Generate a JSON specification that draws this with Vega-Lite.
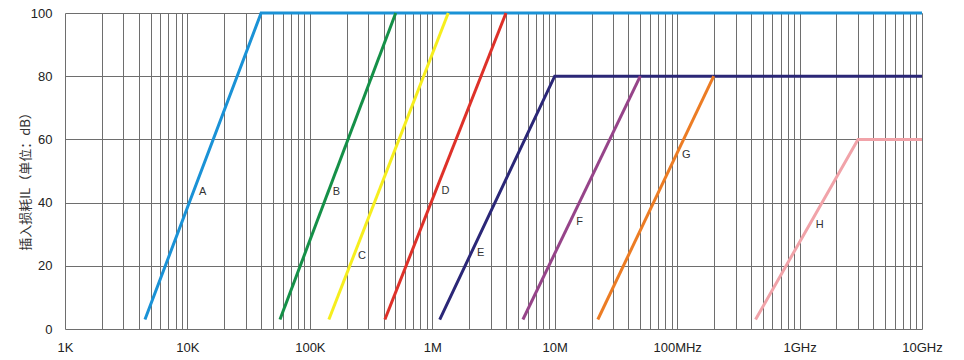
{
  "$schema": "https://vega.github.io/schema/vega-lite/v6.json",
  "width": 857,
  "height": 316,
  "autosize": {"type": "none"},
  "padding": {"left": 65, "top": 13, "right": 42, "bottom": 31},
  "background": "white",
  "config": {
    "view": {"stroke": null},
    "font": "Liberation Sans"
  },
  "datasets": {
    "curves": [
      {"s": "A", "f": 4500, "il": 3}, {"s": "A", "f": 40000, "il": 100}, {"s": "A", "f": 10000000000, "il": 100},
      {"s": "B", "f": 57000, "il": 3}, {"s": "B", "f": 503000, "il": 100},
      {"s": "C", "f": 143000, "il": 3}, {"s": "C", "f": 1350000, "il": 100},
      {"s": "D", "f": 410000, "il": 3}, {"s": "D", "f": 4000000, "il": 100},
      {"s": "E", "f": 1150000, "il": 3}, {"s": "E", "f": 10000000, "il": 80}, {"s": "E", "f": 10000000000, "il": 80},
      {"s": "F", "f": 5500000, "il": 3}, {"s": "F", "f": 50000000, "il": 80},
      {"s": "G", "f": 22500000, "il": 3}, {"s": "G", "f": 199000000, "il": 80},
      {"s": "H", "f": 437000000, "il": 3}, {"s": "H", "f": 3000000000, "il": 60}, {"s": "H", "f": 10000000000, "il": 60}
    ],
    "labels": [
      {"s": "A", "f": 13300, "il": 43.2},
      {"s": "B", "f": 165000, "il": 43.2},
      {"s": "C", "f": 267000, "il": 23.1},
      {"s": "D", "f": 1280000, "il": 43.8},
      {"s": "E", "f": 2490000, "il": 24.0},
      {"s": "F", "f": 16000000, "il": 34.0},
      {"s": "G", "f": 119000000, "il": 55.2},
      {"s": "H", "f": 1460000000, "il": 33.0}
    ]
  },
  "layer": [
    {
      "data": {"name": "curves"},
      "mark": {"type": "line", "strokeWidth": 3, "clip": false},
      "encoding": {
        "x": {
          "field": "f", "type": "quantitative",
          "scale": {"type": "log", "domain": [1000, 10000000000], "nice": false},
          "axis": {
            "values": [1000,2000,3000,4000,5000,6000,7000,8000,9000,
                       10000,20000,30000,40000,50000,60000,70000,80000,90000,
                       100000,200000,300000,400000,500000,600000,700000,800000,900000,
                       1000000,2000000,3000000,4000000,5000000,6000000,7000000,8000000,9000000,
                       10000000,20000000,30000000,40000000,50000000,60000000,70000000,80000000,90000000,
                       100000000,200000000,300000000,400000000,500000000,600000000,700000000,800000000,900000000,
                       1000000000,2000000000,3000000000,4000000000,5000000000,6000000000,7000000000,8000000000,9000000000,
                       10000000000],
            "labelExpr": "datum.value == 1000 ? '1K' : datum.value == 10000 ? '10K' : datum.value == 100000 ? '100K' : datum.value == 1000000 ? '1M' : datum.value == 10000000 ? '10M' : datum.value == 100000000 ? '100MHz' : datum.value == 1000000000 ? '1GHz' : datum.value == 10000000000 ? '10GHz' : ''",
            "title": null,
            "grid": true,
            "gridColor": "#6e6e6e",
            "gridOpacity": 1,
            "gridWidth": 1,
            "domain": false,
            "ticks": false,
            "labelPadding": 12,
            "labelFontSize": 13,
            "labelColor": "#222222",
            "labelFlush": false,
            "labelOverlap": false
          }
        },
        "y": {
          "field": "il", "type": "quantitative",
          "scale": {"domain": [0, 100], "nice": false},
          "axis": {
            "values": [0,10,20,30,40,50,60,70,80,90,100],
            "labelExpr": "datum.value % 20 == 0 ? datum.value : ''",
            "title": "插入损耗IL（单位：dB）",
            "titleFont": "Noto Sans CJK SC",
            "titleFontSize": 13,
            "titleFontWeight": "normal",
            "titleColor": "#333333",
            "titleAngle": 270,
            "titleAlign": "center",
            "titleBaseline": "middle",
            "titleX": -40,
            "titleY": 165,
            "grid": true,
            "gridColor": "#6e6e6e",
            "gridOpacity": 1,
            "gridWidth": 1,
            "domain": false,
            "ticks": false,
            "labelPadding": 13,
            "labelFontSize": 13,
            "labelColor": "#222222",
            "labelOverlap": false
          }
        },
        "color": {
          "field": "s", "type": "nominal",
          "scale": {
            "domain": ["A","B","C","D","E","F","G","H"],
            "range": ["#1a92d6","#159048","#f6ee1e","#de3129","#2b2777","#964489","#ec7c24","#f1a3a9"]
          },
          "legend": null
        },
        "detail": {"field": "s"}
      }
    },
    {
      "data": {"name": "labels"},
      "mark": {"type": "text", "fontSize": 11, "color": "#333333", "font": "Liberation Sans"},
      "encoding": {
        "x": {"field": "f", "type": "quantitative"},
        "y": {"field": "il", "type": "quantitative"},
        "text": {"field": "s"}
      }
    }
  ]
}
